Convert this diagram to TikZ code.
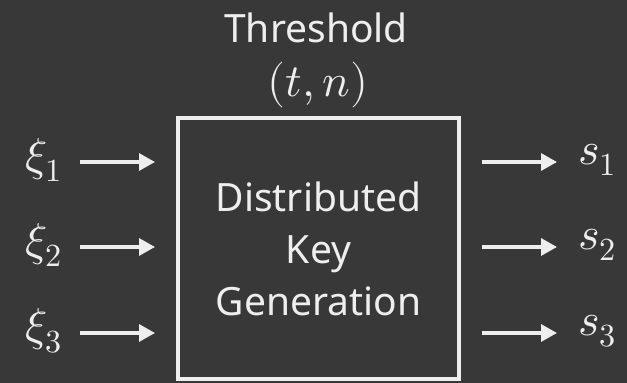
\documentclass[tikz,border=0pt]{standalone}
\usepackage{amsmath}
\usepackage{fontspec}
\usepackage{unicode-math}
\setmainfont{Noto Sans}
\setmathfont{Latin Modern Math}
\usetikzlibrary{arrows.meta}

\definecolor{bgdark}{HTML}{383838}
\definecolor{fgwhite}{HTML}{EEEEEE}

\tikzset{
	flow/.style={fgwhite, line width=3.2pt, -{Triangle[length=16pt,width=17pt]}},
	bigtext/.style={fgwhite, font=\fontsize{39}{52}\selectfont, inner sep=0pt},
	mathlbl/.style={fgwhite, font=\fontsize{46}{52}\selectfont, inner sep=0pt}
}

\begin{document}
\begin{tikzpicture}[x=1pt,y=1pt]
	% -- Background
	\fill[bgdark] (0,0) rectangle (627,383);
	\useasboundingbox (0,0) rectangle (627,383);

	% -- Title
	\node[bigtext] (thr) at (316,355) {Threshold};
	\node[mathlbl] (tn) at (318,298) {$(t,n)$};

	% -- Box
	\node[draw=fgwhite, line width=4pt, minimum width=281pt, minimum height=261pt,
		bigtext, align=center] (dkg) at (318.5,134.5) {Distributed\\Key\\Generation};

	% -- Inputs
	\node[mathlbl, anchor=east] (xi1) at (62,223) {$\xi_1$};
	\node[mathlbl, anchor=east] (xi2) at (62,138) {$\xi_2$};
	\node[mathlbl, anchor=east] (xi3) at (62,52) {$\xi_3$};
	\foreach \i in {1,2,3}
		\draw[flow, shorten <=18pt, shorten >=21pt] ([yshift=-2pt]xi\i.east) -- ([yshift=-2pt]xi\i.east -| dkg.west);

	% -- Outputs
	\node[mathlbl, anchor=west] (s1) at (578,223) {$s_1$};
	\node[mathlbl, anchor=west] (s2) at (578,138) {$s_2$};
	\node[mathlbl, anchor=west] (s3) at (578,52) {$s_3$};
	\foreach \i in {1,2,3}
		\draw[flow, shorten <=21pt, shorten >=21pt] ([yshift=-2pt]s\i.west -| dkg.east) -- ([yshift=-2pt]s\i.west);
\end{tikzpicture}
\end{document}
